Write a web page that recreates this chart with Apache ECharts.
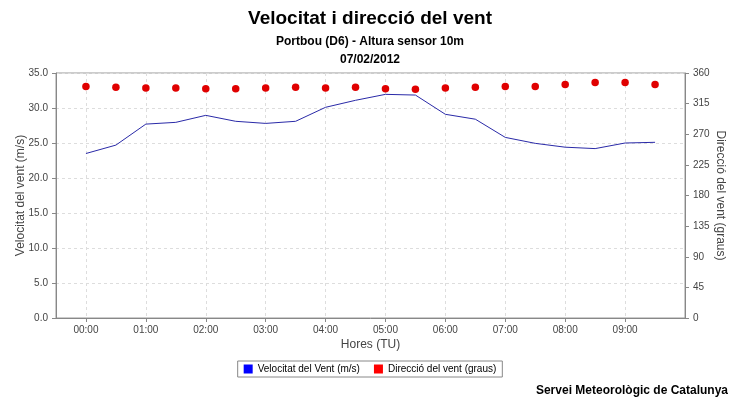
<!DOCTYPE html>
<html><head><meta charset="utf-8">
<script src="https://cdn.jsdelivr.net/npm/echarts@6/dist/echarts.min.js"></script>
<style>html,body{margin:0;padding:0;background:#fff}#c{width:740px;height:400px}</style>
</head><body><div id="c"></div>
<script>
const times = ['00:00','00:30','01:00','01:30','02:00','02:30','03:00','03:30','04:00','04:30','05:00','05:30','06:00','06:30','07:00','07:30','08:00','08:30','09:00','09:30'];
const speed = [23.5,24.7,27.7,27.95,28.95,28.1,27.8,28.1,30.1,31.1,31.95,31.85,29.1,28.4,25.8,24.95,24.4,24.2,25.0,25.1];
const direction = [340,339,338,338,337,337,338,339,338,339,337,336,338,339,340,340,343,346,346,343];
const leftTicks = [0,5,10,15,20,25,30,35];
const rightTicks = [0,45,90,135,180,225,270,315,360];

const cats = [''].concat(times, ['']);
const sp = [null].concat(speed, [null]);
const dir = [null].concat(direction, [null]);
const F = 'Liberation Sans, Arial, sans-serif';
const FN = 'Liberation Sans Narrow, Liberation Sans, Arial, sans-serif';
const chart = echarts.init(document.getElementById('c'));
const isHour = (i) => cats[i] && cats[i].endsWith(':00');
chart.setOption({
  animation:false,
  backgroundColor:'#fff',
  title:[
    {text:'Velocitat i direcció del vent',left:'center',top:4,textStyle:{fontFamily:FN,fontSize:19,fontWeight:'bold',color:'#000'}},
    {text:'Portbou (D6) - Altura sensor 10m',left:'center',top:31,textStyle:{fontFamily:FN,fontSize:12,fontWeight:'bold',color:'#000'}},
    {text:'07/02/2012',left:'center',top:49,textStyle:{fontFamily:FN,fontSize:12,fontWeight:'bold',color:'#000'}},
    {text:'Servei Meteorològic de Catalunya',right:7,top:380,textStyle:{fontFamily:F,fontSize:12,fontWeight:'bold',color:'#000'}}
  ],
  legend:{
    top:361,left:'center',itemWidth:9,itemHeight:9,itemGap:14,icon:'rect',
    borderColor:'#888',borderWidth:1,padding:[3,6],borderRadius:0,
    textStyle:{fontFamily:F,fontSize:10,color:'#000'},
    data:[{name:'Velocitat del Vent (m/s)',itemStyle:{color:'#0000ff'}},{name:'Direcció del vent (graus)',itemStyle:{color:'#ff0000'}}]
  },
  grid:{left:56,right:55,top:73,bottom:82,show:true,borderColor:'#999',borderWidth:1,containLabel:false,outerBoundsMode:'none'},
  xAxis:{
    type:'category',data:cats,boundaryGap:false,
    name:'Hores (TU)',nameLocation:'middle',nameGap:21,nameMoveOverlap:false,
    nameTextStyle:{fontFamily:F,fontSize:12,color:'#444'},
    axisLine:{lineStyle:{color:'#888'}},
    axisTick:{show:true,interval:(i)=>isHour(i),length:4,lineStyle:{color:'#888'}},
    axisLabel:{interval:(i)=>isHour(i),fontFamily:F,fontSize:10,color:'#444',margin:7},
    splitLine:{show:true,interval:(i)=>isHour(i),lineStyle:{color:'#ddd',type:[3,3]}}
  },
  yAxis:[
    {type:'value',min:0,max:35,interval:5,position:'left',
     name:'Velocitat del vent (m/s)',nameLocation:'middle',nameGap:29,nameMoveOverlap:false,
     nameTextStyle:{fontFamily:F,fontSize:12,color:'#444'},
     axisLine:{show:true,lineStyle:{color:'#888'}},axisTick:{show:true,length:4,lineStyle:{color:'#888'}},
     axisLabel:{fontFamily:F,fontSize:10,color:'#444',formatter:(v)=>v.toFixed(1)},
     splitLine:{show:true,lineStyle:{color:'#ddd',type:[3,3]}}},
    {type:'value',min:0,max:360,interval:45,position:'right',
     name:'Direcció del vent (graus)',nameLocation:'middle',nameGap:29,nameRotate:-90,nameMoveOverlap:false,
     nameTextStyle:{fontFamily:F,fontSize:12,color:'#444'},
     axisLine:{show:true,lineStyle:{color:'#888'}},axisTick:{show:true,length:4,lineStyle:{color:'#888'}},
     axisLabel:{fontFamily:F,fontSize:10,color:'#444'},
     splitLine:{show:false}}
  ],
  series:[
    {name:'Velocitat del Vent (m/s)',type:'line',yAxisIndex:0,data:sp,showSymbol:false,symbol:'none',
     lineStyle:{color:'#2a2aa8',width:1},itemStyle:{color:'#0000ff'},connectNulls:false},
    {name:'Direcció del vent (graus)',type:'scatter',yAxisIndex:1,data:dir,symbol:'circle',symbolSize:7.5,
     itemStyle:{color:'#e00000',opacity:1}}
  ]
});
</script></body></html>
